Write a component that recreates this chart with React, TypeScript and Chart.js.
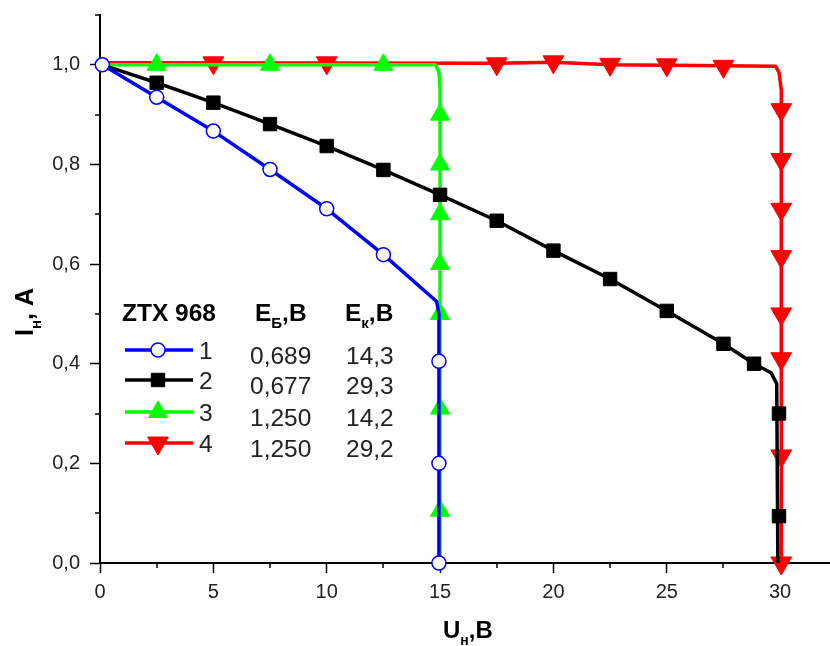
import React, { useEffect, useRef } from 'react';
import { Chart, registerables } from 'chart.js';
import { drawPoint } from 'chart.js/helpers';

Chart.register(...registerables);

// ---- data ----
const xTicks = [0, 5, 10, 15, 20, 25, 30];
const xMinorTicks = [2.5, 7.5, 12.5, 17.5, 22.5, 27.5];
const yTicks = [0, 0.2, 0.4, 0.6, 0.8, 1.0];
const yMinorTicks = [0.1, 0.3, 0.5, 0.7, 0.9, 1.1];

// series 1 (blue, open circles)
const s1LineX = [0.1, 2.5, 5, 7.5, 10, 12.5, 14.85, 14.95, 14.95];
const s1LineY = [1.0, 0.935, 0.867, 0.79, 0.711, 0.619, 0.525, 0.5, 0.0];
const s1MarkX = [0.1, 2.5, 5, 7.5, 10, 12.5, 14.95, 14.95, 14.95];
const s1MarkY = [1.0, 0.935, 0.867, 0.79, 0.711, 0.619, 0.405, 0.2, 0.0];

// series 2 (black, squares)
const s2LineX = [0.1, 2.5, 5, 7.5, 10, 12.5, 15, 17.5, 20, 22.5, 25, 27.5, 28.85, 29.6, 29.85, 29.9];
const s2LineY = [1.0, 0.964, 0.924, 0.881, 0.837, 0.789, 0.739, 0.687, 0.627, 0.57, 0.506, 0.44, 0.4, 0.382, 0.36, 0.0];
const s2MarkX = [2.5, 5, 7.5, 10, 12.5, 15, 17.5, 20, 22.5, 25, 27.5, 28.85, 29.95, 29.95];
const s2MarkY = [0.964, 0.924, 0.881, 0.837, 0.789, 0.739, 0.687, 0.627, 0.57, 0.506, 0.44, 0.4, 0.3, 0.094];

// series 3 (green, triangles up)
const s3LineX = [0.1, 14.8, 14.95, 15.0, 15.0];
const s3LineY = [1.0, 1.0, 0.985, 0.95, 0.0];
const s3MarkX = [2.5, 7.5, 12.5, 15, 15, 15, 15, 15, 15, 15];
const s3MarkY = [1.0, 1.0, 1.0, 0.9, 0.8, 0.7, 0.6, 0.5, 0.31, 0.105];

// series 4 (red, triangles down)
const s4LineX = [0.1, 17.5, 20, 22.5, 27.5, 29.8, 29.95, 30.05, 30.05];
const s4LineY = [1.004, 1.003, 1.005, 1.0, 0.998, 0.997, 0.985, 0.95, 0.0];
const s4MarkX = [5, 10, 17.5, 20, 22.5, 25, 27.5, 30.05, 30.05, 30.05, 30.05, 30.05, 30.05, 30.05, 30.05];
const s4MarkY = [1.004, 1.004, 1.002, 1.006, 1.001, 1.0, 0.997, 0.91, 0.81, 0.71, 0.615, 0.5, 0.41, 0.215, 0.0];

// legend table
const legendTitle = 'ZTX 968';
const legendNames = ['1', '2', '3', '4'];
const legendEb = ['0,689', '0,677', '1,250', '1,250'];
const legendEk = ['14,3', '29,3', '14,2', '29,2'];

const FONT = '"Liberation Sans", Arial, Helvetica, sans-serif';

const pts = (xs: number[], ys: number[]) => xs.map((x, i) => ({ x, y: ys[i] }));

const seriesStyles = [
  { color: '#0000ff', pointStyle: 'circle', radius: 7, rotation: 0, fill: '#ffffff', borderWidth: 1.5 },
  { color: '#000000', pointStyle: 'rect', radius: 9.5, rotation: 0, fill: '#000000', borderWidth: 1 },
  { color: '#00ff00', pointStyle: 'triangle', radius: 11, rotation: 0, fill: '#00ff00', borderWidth: 1 },
  { color: '#ff0000', pointStyle: 'triangle', radius: 12, rotation: 180, fill: '#ff0000', borderWidth: 1 },
];

function drawRich(ctx: CanvasRenderingContext2D, parts: { t: string; sub?: boolean }[], x: number, y: number, size: number, bold: boolean, align: 'left' | 'center' = 'left') {
  const mainFont = `${bold ? 'bold ' : ''}${size}px ${FONT}`;
  const subFont = `${bold ? 'bold ' : ''}${Math.round(size * 0.6)}px ${FONT}`;
  let total = 0;
  parts.forEach((p) => {
    ctx.font = p.sub ? subFont : mainFont;
    total += ctx.measureText(p.t).width;
  });
  let cx = align === 'center' ? x - total / 2 : x;
  ctx.textAlign = 'left';
  ctx.textBaseline = 'alphabetic';
  parts.forEach((p) => {
    ctx.font = p.sub ? subFont : mainFont;
    ctx.fillText(p.t, cx, p.sub ? y + size * 0.3 : y);
    cx += ctx.measureText(p.t).width;
  });
}

const extras = {
  id: 'extras',
  afterDraw(chart: any) {
    const ctx: CanvasRenderingContext2D = chart.ctx;
    const xs = chart.scales.x;
    const ys = chart.scales.y;
    ctx.save();
    // minor ticks
    ctx.strokeStyle = '#000';
    ctx.lineWidth = 1.5;
    xMinorTicks.forEach((v) => {
      const px = Math.round(xs.getPixelForValue(v));
      ctx.beginPath();
      ctx.moveTo(px, ys.bottom);
      ctx.lineTo(px, ys.bottom + 5);
      ctx.stroke();
    });
    yMinorTicks.forEach((v) => {
      const py = Math.round(ys.getPixelForValue(v));
      ctx.beginPath();
      ctx.moveTo(xs.left, py);
      ctx.lineTo(xs.left - 5, py);
      ctx.stroke();
    });

    ctx.fillStyle = '#000';
    // x title
    drawRich(ctx, [{ t: 'U' }, { t: 'н', sub: true }, { t: ',В' }], 443, 638, 24, true);
    // y title
    ctx.save();
    ctx.translate(33, 312);
    ctx.rotate(-Math.PI / 2);
    drawRich(ctx, [{ t: 'I' }, { t: 'н', sub: true }, { t: ', A' }], 0, 0, 25, true, 'center');
    ctx.restore();

    // legend table
    ctx.fillStyle = '#000';
    drawRich(ctx, [{ t: legendTitle }], 122, 321, 24.5, true);
    drawRich(ctx, [{ t: 'Е' }, { t: 'Б', sub: true }, { t: ',В' }], 255, 321, 24.5, true);
    drawRich(ctx, [{ t: 'Е' }, { t: 'к', sub: true }, { t: ',В' }], 345, 321, 24.5, true);
    const rowY = [350, 380, 412, 443];
    legendNames.forEach((name, i) => {
      const st = seriesStyles[i];
      const y = rowY[i];
      ctx.strokeStyle = st.color;
      ctx.lineWidth = 3.5;
      ctx.beginPath();
      ctx.moveTo(125, y);
      ctx.lineTo(193, y);
      ctx.stroke();
      ctx.fillStyle = st.fill;
      ctx.strokeStyle = st.color;
      ctx.lineWidth = st.borderWidth;
      drawPoint(ctx, { pointStyle: st.pointStyle as any, radius: st.radius, rotation: st.rotation, borderWidth: st.borderWidth }, 158, y);
      ctx.fillStyle = '#222';
      ctx.font = `24.5px ${FONT}`;
      ctx.textBaseline = 'alphabetic';
      ctx.textAlign = 'left';
      ctx.fillText(name, 199, y + 9);
      ctx.fillText(legendEb[i], 250, y + 14);
      ctx.fillText(legendEk[i], 346, y + 14);
    });
    ctx.restore();
  },
};

export default function App() {
  const ref = useRef<HTMLCanvasElement>(null);
  useEffect(() => {
    if (!ref.current) return;
    const lineSets = [
      [s1LineX, s1LineY],
      [s2LineX, s2LineY],
      [s3LineX, s3LineY],
      [s4LineX, s4LineY],
    ];
    const markSets = [
      [s1MarkX, s1MarkY],
      [s2MarkX, s2MarkY],
      [s3MarkX, s3MarkY],
      [s4MarkX, s4MarkY],
    ];
    const datasets: any[] = [];
    seriesStyles.forEach((st, i) => {
      datasets.push({
        label: `m${i + 1}`,
        data: pts(markSets[i][0], markSets[i][1]),
        showLine: false,
        pointStyle: st.pointStyle,
        pointRadius: st.radius,
        pointRotation: st.rotation,
        pointBackgroundColor: st.fill,
        pointBorderColor: st.color,
        pointBorderWidth: st.borderWidth,
        clip: false,
      });
      datasets.push({
        label: `l${i + 1}`,
        data: pts(lineSets[i][0], lineSets[i][1]),
        borderColor: st.color,
        borderWidth: 3.5,
        pointRadius: 0,
        tension: 0,
        fill: false,
        clip: false,
        borderJoinStyle: 'round',
      });
    });
    const tickFont = { family: FONT, size: 20 };
    const chart = new Chart(ref.current, {
      type: 'line',
      data: { datasets },
      plugins: [extras],
      options: {
        animation: false,
        responsive: false,
        devicePixelRatio: 1,
        events: [],
        layout: { autoPadding: false, padding: { top: 15, right: 0, left: 0, bottom: 0 } },
        plugins: { legend: { display: false }, tooltip: { enabled: false } },
        scales: {
          x: {
            type: 'linear',
            min: 0,
            max: 32.2,
            afterBuildTicks: (s: any) => {
              s.ticks = xTicks.map((v) => ({ value: v }));
            },
            afterFit: (s: any) => {
              s.height = 83;
              s.paddingLeft = 0;
              s.paddingRight = 0;
            },
            grid: { drawOnChartArea: false, drawTicks: true, tickLength: 10, tickWidth: 1.5, tickColor: '#000' },
            border: { display: true, color: '#000', width: 2 },
            ticks: { font: tickFont, color: '#222', padding: 7, maxRotation: 0, callback: (v: any) => String(v) },
          },
          y: {
            type: 'linear',
            min: 0,
            max: 1.1,
            afterBuildTicks: (s: any) => {
              s.ticks = yTicks.map((v) => ({ value: v }));
            },
            afterFit: (s: any) => {
              s.width = 100;
              s.paddingTop = 0;
              s.paddingBottom = 0;
            },
            grid: { drawOnChartArea: false, drawTicks: true, tickLength: 10, tickWidth: 1.5, tickColor: '#000' },
            border: { display: true, color: '#000', width: 2 },
            ticks: { font: tickFont, color: '#222', padding: 10, callback: (v: any) => Number(v).toFixed(1).replace('.', ',') },
          },
        },
      } as any,
    });
    return () => chart.destroy();
  }, []);
  return (
    <div style={{ position: 'fixed', left: 0, top: 0, width: 830, height: 646, background: '#fff' }}>
      <canvas ref={ref} width={830} height={646} style={{ display: 'block' }} />
    </div>
  );
}
